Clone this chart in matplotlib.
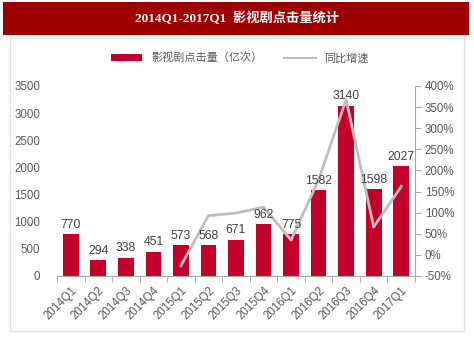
import matplotlib
matplotlib.use('Agg')
import matplotlib.pyplot as plt
import matplotlib.patches as mpatches
from matplotlib.lines import Line2D
import numpy as np

# ── Dados ────────────────────────────────────────────────────────────────
quarters = ["2014Q1", "2014Q2", "2014Q3", "2014Q4", "2015Q1", "2015Q2", "2015Q3",
            "2015Q4", "2016Q1", "2016Q2", "2016Q3", "2016Q4", "2017Q1"]
clicks = [770, 294, 338, 451, 573, 568, 671, 962, 775, 1582, 3140, 1598, 2027]
growth_q = quarters[4:]
growth = [-26, 93, 99, 113, 35, 178, 368, 66, 162]

TITLE = "2014Q1-2017Q1  影视剧点击量统计"
BAR_LABEL = "影视剧点击量（亿次）"
LINE_LABEL = "同比增速"

# ── Paleta ───────────────────────────────────────────────────────────────
BANNER = "#9E0000"
BAR = "#C4002A"
LINE = "#BEBEBE"
AXIS = "#A6A6A6"
TXT = "#595959"

plt.rcParams['font.family'] = ['Liberation Sans', 'Noto Sans CJK SC', 'DejaVu Sans']

W, H = 474, 356
fig = plt.figure(figsize=(W / 100, H / 100), dpi=100)
fig.patch.set_facecolor('white')

def fx(px):
    return px / W

def fy(py):
    return 1 - py / H

# faixa do título
fig.patches.append(mpatches.Rectangle((fx(3), fy(35)), fx(466), 33 / H,
                                      transform=fig.transFigure, facecolor=BANNER,
                                      edgecolor='none', zorder=-10))
fig.text(fx(237), fy(18.5), TITLE, color='white', fontsize=9.5, fontweight='bold',
         ha='center', va='center', family=['Liberation Serif', 'Noto Sans CJK SC'])

# painel branco com borda
fig.patches.append(mpatches.Rectangle((fx(10), fy(331)), fx(454), 293 / H,
                                      transform=fig.transFigure, facecolor='white',
                                      edgecolor='#E3E3E3', linewidth=1.0, zorder=-10))

ax = fig.add_axes([fx(57), fy(276), fx(358), 190 / H])
ax2 = ax.twinx()

x = np.arange(len(quarters))
ax.bar(x, clicks, width=0.57, color=BAR, zorder=2)

ax.set_xlim(-0.5, len(quarters) - 0.5)
ax.set_ylim(0, 3500)
ax.set_yticks(range(0, 3501, 500))
ax.set_xticks(x)
ax.set_xticklabels(quarters, rotation=45, ha='right', rotation_mode='anchor',
                   fontsize=8.3, color=TXT)
ax.set_xticks(np.arange(-0.5, len(quarters), 1), minor=True)
ax.tick_params(axis='x', which='major', length=0, pad=6)
ax.tick_params(axis='x', which='minor', length=4, color=AXIS, direction='out')
ax.tick_params(axis='y', length=0, labelsize=8.3, labelcolor=TXT, pad=12)

gx = [quarters.index(q) for q in growth_q]
ax2.plot(gx, growth, color=LINE, linewidth=2, zorder=3)
ax2.set_ylim(-50, 400)
ax2.set_yticks(range(-50, 401, 50))
ax2.set_yticklabels([f"{t}%" for t in range(-50, 401, 50)])
ax2.tick_params(axis='y', length=4, color=AXIS, labelsize=8.3, labelcolor=TXT, pad=3)

# rótulos de valor por cima da linha
for xi, v in zip(x, clicks):
    ax2.text(xi, v + 60, str(v), ha='center', va='bottom', fontsize=8.8,
             color='#404040', zorder=5, transform=ax.transData)

for a in (ax, ax2):
    a.set_facecolor('none')
    a.spines['top'].set_visible(False)
    a.spines['left'].set_visible(False)
    a.spines['right'].set_visible(False)
    a.spines['bottom'].set_color(AXIS)
ax2.spines['right'].set_visible(True)
ax2.spines['right'].set_color(AXIS)
ax2.spines['bottom'].set_visible(False)

# legenda
handles = [mpatches.Patch(facecolor=BAR, edgecolor='none', label=BAR_LABEL),
           Line2D([0], [0], color=LINE, linewidth=1.5, label=LINE_LABEL)]
fig.legend(handles=handles, loc='center', bbox_to_anchor=(fx(240), fy(58)), ncol=2,
           frameon=False, handlelength=2.8, handleheight=0.6,
           columnspacing=2.0, labelcolor=TXT,
           prop={'family': ['Noto Sans CJK SC'], 'size': 8})

fig.savefig("out.png", dpi=100)
